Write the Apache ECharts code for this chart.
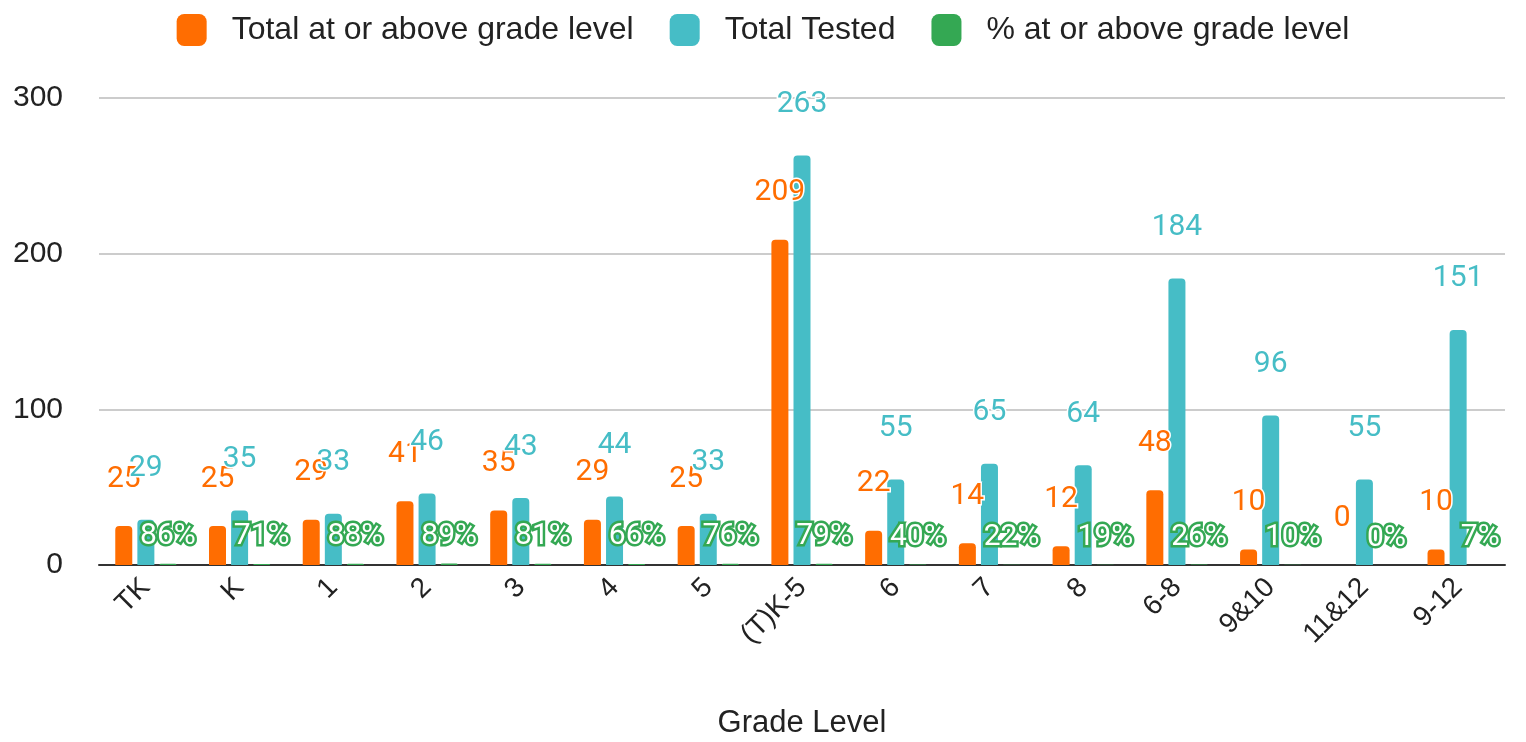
<!DOCTYPE html>
<html><head><meta charset="utf-8">
<script src="https://cdn.jsdelivr.net/npm/echarts@6/dist/echarts.min.js"></script>
<style>html,body{margin:0;padding:0;background:#fff}#c{width:1526px;height:742px}</style>
</head><body><div id="c"></div>
<script>
var categories = ['TK','K','1','2','3','4','5','(T)K-5','6','7','8','6-8','9&10','11&12','9-12'];
var atOrAbove = [25,25,29,41,35,29,25,209,22,14,12,48,10,0,10];
var totalTested = [29,35,33,46,43,44,33,263,55,65,64,184,96,55,151];
var pctAtOrAbove = [0.86,0.71,0.88,0.89,0.81,0.66,0.76,0.79,0.40,0.22,0.19,0.26,0.10,0.00,0.07];
var yTicks = [0,100,200,300];

var chart = echarts.init(document.getElementById('c'), null, {renderer:'canvas'});
var labelFont = 'Roboto';
chart.setOption({
  animation:false,
  textStyle:{fontFamily:'Liberation Sans, Arial, sans-serif'},
  legend:{
    top:9, left:'center', itemWidth:30, itemHeight:32, itemGap:36,
    icon:'roundRect',
    textStyle:{fontSize:32, color:'#222', fontFamily:'Liberation Sans, Arial', padding:[0,0,0,20]},
    data:['Total at or above grade level','Total Tested','% at or above grade level']
  },
  grid:{left:99, right:21, top:98, bottom:177, containLabel:false, outerBoundsMode:'none'},
  xAxis:{
    type:'category', data:categories,
    name:'Grade Level', nameLocation:'middle', nameGap:143,
    nameTextStyle:{fontSize:31, color:'#222'},
    axisTick:{show:false},
    axisLine:{lineStyle:{color:'#333', width:2}},
    axisLabel:{rotate:45, fontSize:28, color:'#222', margin:18, interval:0, padding:[20,0,0,0]}
  },
  yAxis:{
    type:'value', min:yTicks[0], max:yTicks[yTicks.length-1], interval:100,
    axisLabel:{fontSize:30, color:'#222', margin:36},
    splitLine:{lineStyle:{color:'#ccc', width:2}},
    axisLine:{show:false}, axisTick:{show:false}
  },
  series:[
    {name:'Total at or above grade level', type:'bar', data:atOrAbove,
     barWidth:17, barGap:'30%',
     itemStyle:{color:'#ff6d01', borderRadius:[4,4,0,0]},
     label:{show:true, position:'top', distance:32, color:'#ff6d01', fontSize:30, fontFamily:labelFont,
            textBorderColor:'#fff', textBorderWidth:3}},
    {name:'Total Tested', type:'bar', data:totalTested,
     barWidth:17, barGap:'30%',
     itemStyle:{color:'#46bdc6', borderRadius:[4,4,0,0]},
     label:{show:true, position:'top', distance:36, color:'#46bdc6', fontSize:30, fontFamily:labelFont,
            textBorderColor:'#fff', textBorderWidth:3}},
    {name:'% at or above grade level', type:'bar', data:pctAtOrAbove,
     barWidth:17, barGap:'30%',
     itemStyle:{color:'#34a853', borderRadius:[4,4,0,0]},
     label:{show:true, position:'top', distance:12, color:'#fff', fontSize:30, fontFamily:labelFont,
            textBorderColor:'#34a853', textBorderWidth:5,
            formatter:function(p){return Math.round(p.value*100)+'%';}}}
  ]
});
</script></body></html>
